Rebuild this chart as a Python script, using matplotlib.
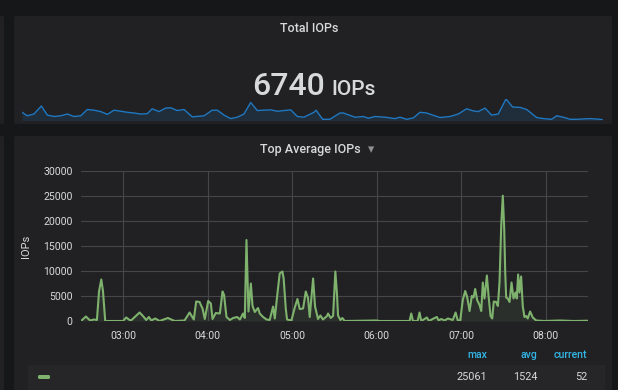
import numpy as np
import pandas as pd
import matplotlib
matplotlib.use("Agg")
import matplotlib.pyplot as plt
import matplotlib.dates as mdates
from matplotlib.patches import FancyBboxPatch, Rectangle

plt.rcParams['font.family'] = ['Roboto', 'DejaVu Sans']

# ---- data ----
start = pd.Timestamp("2018-01-01 02:30")

# Top Average IOPs: minutes after 02:30, value
avg_min = [0, 3.5, 6.4, 9.2, 11.3, 12.8, 14.4, 15.6, 17.2, 29.8, 32.1, 34.5, 35.5, 41.6, 44, 46.3,
           48.2, 49.9, 52.7, 55.8, 61.7, 66.5, 73.5, 77.1, 80.1, 81.8, 84.2, 85.1, 86.3, 87.9,
           90.3, 92.2, 93.4, 95.7, 98.6, 100.5, 101.6, 103.3, 105.7, 108, 110.9, 112.8, 115.1,
           116.3, 117.5, 118.9, 120.6, 121.8, 123.4, 125.7, 126.9, 129.3, 131.7, 134, 136.4,
           137.6, 139.2, 141.1, 143, 143.9, 145.4, 146.3, 149.4, 151.8, 153.7, 155.3, 157.7,
           159.6, 161.2, 162.4, 164.8, 166.2, 168.3, 170, 171.8, 174.7, 175.4, 177.3, 179,
           180.6, 181.8, 182.5, 184.2, 185.6, 187.2, 209.7, 212, 233.3, 234.5, 235.7, 239,
           240.4, 241.6, 245.6, 247, 251.1, 252.7, 253.9, 255.8, 258.2, 260.5, 264, 266, 267.6,
           269.3, 271.1, 272.8, 274.2, 275.9, 277.5, 278.7, 279.9, 281.3, 283, 284.2, 285.3,
           286.5, 288.2, 289.4, 290.8, 292, 293.1, 294.8, 296, 297.2, 298.4, 299.5, 300.5,
           301.2, 301.9, 303, 304.3, 305.7, 307.1, 308.5, 309.4, 310.4, 311.3, 312.5, 313.7,
           314.9, 316.1, 317.2, 318.9, 320.8, 323.2, 329, 340, 350, 360]
avg_val = [0, 900, 100, 300, 200, 5900, 8300, 6000, 0, 0, 700, 200, 100, 1700, 1000, 200,
           800, 100, 500, 0, 600, 0, 100, 1700, 300, 3900, 3800, 3200, 2500, 400,
           4000, 3500, 400, 1600, 1500, 5900, 5200, 800, 200, 600, 800, 300, 1500,
           600, 16200, 1900, 7500, 3000, 1800, 2600, 1500, 800, 300, 200, 2900,
           500, 4800, 9500, 9900, 8500, 2500, 300, 100, 2700, 4400, 2400, 2500,
           5900, 4600, 800, 8500, 2900, 400, 1100, 300, 1000, 1500, 600, 1000,
           9900, 5200, 1100, 200, 600, 0, 100, 0, 0, 1500, 0, 0,
           1700, 0, 700, 0, 600, 800, 100, 400, 100, 500, 200, 1700, 0,
           200, 4200, 6000, 4800, 2000, 5000, 4700, 6400, 4200, 3200, 2000, 7700,
           4500, 9100, 5000, 1000, 500, 3900, 3800, 3000, 7900, 19200, 25061, 18600,
           9900, 4700, 4500, 3800, 7700, 4500, 5700, 4500, 9300, 5700, 8900, 2900,
           800, 1000, 500, 1900, 700, 100, 0, 100, 0, 52]

# Total IOPs sparkline
tot_min = [0, 3.3, 7.4, 12, 15.7, 19.8, 24, 28.1, 32.2, 36.4, 40.5, 44.6, 48.8, 52.9, 57, 61.2,
           65.3, 69.4, 73.5, 77.6, 80.7, 84.9, 89, 92.1, 96.2, 100.4, 105.5, 112.8, 117.9, 121,
           125.2, 129.3, 133.4, 137.5, 141.7, 145.8, 154.1, 158.2, 166.5, 170.6, 174.7, 180.9,
           182.2, 186.3, 190.8, 197, 199.1, 206.3, 211.5, 214.6, 218.7, 224.9, 231.1, 234.2,
           238.4, 242.5, 246.6, 250.7, 259, 265.2, 270.3, 275.5, 279.6, 282.7, 286.9, 291,
           295.1, 299.9, 304, 308.6, 312.7, 318.9, 323, 328.2, 331.3, 335.4, 339.6, 343.7,
           351.9, 358.1, 360]
tot_val = [7800, 6300, 7050, 10500, 6600, 6000, 6300, 7050, 6000, 6300, 9000, 8700, 8100, 6900,
           8700, 8250, 7800, 7500, 7050, 7200, 9300, 8100, 9600, 9750, 8550, 9000, 5850, 6300,
           8700, 8700, 6600, 5100, 5700, 7050, 12000, 8550, 8850, 8250, 8850, 6000, 5700, 7800,
           8700, 4800, 4800, 7500, 7500, 5700, 6000, 5250, 6000, 5700, 5100, 5700, 4800, 5400,
           7800, 7500, 5550, 6000, 7050, 9300, 8400, 8100, 9600, 6600, 7050, 13500, 10050, 9900,
           9000, 5550, 5100, 4800, 6300, 5700, 4800, 4800, 5100, 4800, 4500]

y_ticks = [0, 5000, 10000, 15000, 20000, 25000, 30000]
legend_cols = ["max", "avg", "current"]
legend_vals = ["25061", "1524", "52"]
total_current = "6740"

# ---- layout ----
W, H = 618, 390
BG = "#161719"
PANEL = "#212124"
TXT = "#d8d9da"
GREEN = "#7eb26d"
BLUE = "#1f78c1"
GRID = "#464649"


def fx(px):
    return px / W


def fy(py):
    return 1 - py / H


fig = plt.figure(figsize=(W / 100, H / 100), dpi=100, facecolor=BG)


def panel(x0, y0, x1, y1, color=PANEL):
    p = FancyBboxPatch((fx(x0), fy(y1)), fx(x1) - fx(x0), fy(y0) - fy(y1),
                       boxstyle="round,pad=0,rounding_size=0.004", transform=fig.transFigure,
                       facecolor=color, edgecolor="none", zorder=0)
    fig.add_artist(p)


panel(14, 16, 612, 124)
panel(14, 136, 612, 400)
panel(-10, 16, 4, 124)
panel(-10, 136, 4, 400)
fig.add_artist(Rectangle((fx(28), fy(392)), fx(605) - fx(28), fy(365) - fy(392),
                         transform=fig.transFigure, facecolor="#262629", edgecolor="none", zorder=0))

# ---- Total IOPs panel ----
fig.text(fx(309), fy(29), "Total IOPs", color=TXT, fontsize=9, fontweight="medium",
         ha="center", va="center")
fig.text(fx(325), fy(95), total_current, color=TXT, fontsize=23, fontweight="medium",
         ha="right", va="baseline")
fig.text(fx(331), fy(95), "IOPs", color=TXT, fontsize=15, fontweight="medium",
         ha="left", va="baseline")

tot_t = [start + pd.Timedelta(minutes=m) for m in tot_min]
sax = fig.add_axes([fx(22), fy(120), fx(603) - fx(22), fy(99) - fy(120)])
sax.set_facecolor("none")
sax.plot(tot_t, tot_val, color=BLUE, lw=1)
sax.fill_between(tot_t, tot_val, 0, color=BLUE, alpha=0.15, lw=0)
sax.set_ylim(4500, 13500)
sax.set_xlim(tot_t[0], tot_t[-1])
sax.axis("off")

# ---- Top Average IOPs panel ----
fig.text(fx(310), fy(150), "Top Average IOPs", color=TXT, fontsize=9, fontweight="medium",
         ha="center", va="center")
fig.text(fx(371), fy(150), "\u25be", color="#8e8e8e", fontsize=9, family="DejaVu Sans",
         ha="center", va="center")

avg_t = [start + pd.Timedelta(minutes=m) for m in avg_min]
ax = fig.add_axes([fx(81), fy(321), fx(588) - fx(81), fy(171) - fy(321)])
ax.set_facecolor("none")
ax.plot(avg_t, avg_val, color=GREEN, lw=1.5, zorder=3)
ax.fill_between(avg_t, avg_val, 0, color=GREEN, alpha=0.1, lw=0, zorder=2)
ax.set_xlim(start, start + pd.Timedelta(minutes=360))
ax.set_ylim(0, 30000)
ax.set_yticks(y_ticks)
ax.xaxis.set_major_locator(mdates.HourLocator())
ax.xaxis.set_major_formatter(mdates.DateFormatter("%H:%M"))
ax.grid(True, color=GRID, lw=0.8, zorder=1)
for s in ax.spines.values():
    s.set_visible(False)
ax.tick_params(length=0, colors=TXT, labelsize=7.6, pad=6)
ax.tick_params(axis="x", pad=7)
ax.set_ylabel("IOPs", color=TXT, fontsize=8, labelpad=9)

# legend
hdr_x = [487, 537, 587]
for x, c, v in zip(hdr_x, legend_cols, legend_vals):
    fig.text(fx(x), fy(355), c, color="#33b5e5", fontsize=7.6, fontweight="medium",
             ha="right", va="center")
    fig.text(fx(x), fy(377), v, color=TXT, fontsize=7.8, ha="right", va="center")
fig.add_artist(FancyBboxPatch((fx(38), fy(379)), fx(50) - fx(38), fy(375) - fy(379),
                              boxstyle="round,pad=0,rounding_size=0.003",
                              transform=fig.transFigure, facecolor=GREEN, edgecolor="none"))

fig.savefig("out.png", dpi=100, facecolor=BG)
